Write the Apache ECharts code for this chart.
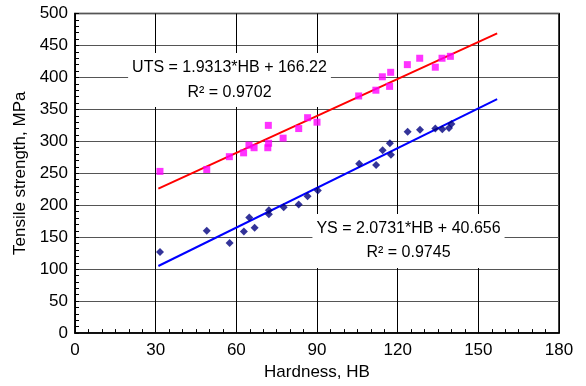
<!DOCTYPE html>
<html>
<head>
<meta charset="utf-8">
<script src="https://cdn.jsdelivr.net/npm/echarts@6/dist/echarts.min.js"></script>
<style>
  html, body { margin: 0; padding: 0; background: #fff; }
  #chart { width: 586px; height: 386px; }
</style>
</head>
<body>
<div id="chart"></div>
<script>
var utsHB  = [31.6, 49, 57.4, 62.7, 64.7, 66.6, 71.9, 71.7, 72.0, 77.4, 83.2, 86.5, 90.0, 105.5, 111.9, 114.3, 117.4, 117.0, 123.6, 128.2, 134.0, 136.5, 139.6];
var utsMPa = [253, 256, 276, 282, 294, 290, 325, 290, 297, 305, 320, 337, 330, 371, 380, 401, 408, 386, 420, 430, 416, 430, 433];
var ysHB   = [31.6, 49, 57.5, 62.8, 64.8, 66.8, 72.1, 72.1, 77.6, 83.2, 86.5, 90.3, 105.7, 112.0, 114.4, 117.1, 117.5, 123.7, 128.3, 134.0, 136.6, 139.1, 140.0];
var ysMPa  = [127, 160, 141, 159, 181, 165, 192, 186, 197, 201, 214, 223, 265, 263, 286, 297, 279, 315, 318, 320, 319, 321, 327];
// trend line ends
var fitHB  = [31, 157];
var utsFit = [226, 469];
var ysFit  = [105, 366];

var utsText = 'UTS = 1.9313*HB + 166.22\nR² = 0.9702';
var ysText  = 'YS = 2.0731*HB + 40.656\nR² = 0.9745';

function pairs(xs, ys) {
  var out = [];
  for (var i = 0; i < xs.length; i++) out.push([xs[i], ys[i]]);
  return out;
}

var chart = echarts.init(document.getElementById('chart'));
var font = 'Liberation Sans, Arial, sans-serif';

var option = {
  animation: false,
  grid: {
    left: 75, right: 27, top: 13.5, bottom: 51,
    show: true, borderColor: '#000', borderWidth: 1.5
  },
  xAxis: {
    type: 'value', min: 0, max: 180, interval: 30,
    name: 'Hardness, HB', nameLocation: 'middle', nameGap: 30,
    nameTextStyle: { color: '#000', fontSize: 17, fontFamily: font },
    axisLine: { lineStyle: { color: '#000', width: 1.5 } },
    axisTick: { show: true, inside: true, length: 4, lineStyle: { color: '#000' } },
    minorTick: { show: true, splitNumber: 6, length: 4, lineStyle: { color: '#000' } },
    axisLabel: { color: '#000', fontSize: 17, fontFamily: font, margin: 9 },
    splitLine: { show: true, lineStyle: { color: '#000', width: 1 } }
  },
  yAxis: {
    type: 'value', min: 0, max: 500, interval: 50,
    name: 'Tensile strength, MPa', nameLocation: 'middle', nameGap: 46,
    nameTextStyle: { color: '#000', fontSize: 17, fontFamily: font },
    axisLine: { lineStyle: { color: '#000', width: 1.5 } },
    axisTick: { show: true, inside: true, length: 4, lineStyle: { color: '#000' } },
    minorTick: { show: true, splitNumber: 5, length: 4, lineStyle: { color: '#000' } },
    axisLabel: { color: '#000', fontSize: 17, fontFamily: font, margin: 7 },
    splitLine: { show: true, lineStyle: { color: '#555', width: 1.2 } }
  },
  series: [
    {
      type: 'line', data: pairs(fitHB, utsFit), showSymbol: false, z: 3,
      lineStyle: { color: '#ff0000', width: 2 }
    },
    {
      type: 'line', data: pairs(fitHB, ysFit), showSymbol: false, z: 3,
      lineStyle: { color: '#0000ff', width: 2 }
    },
    {
      type: 'scatter', data: pairs(utsHB, utsMPa), symbol: 'rect', symbolSize: 7, z: 4,
      itemStyle: { color: '#ff00ff' }
    },
    {
      type: 'scatter', data: pairs(ysHB, ysMPa), symbol: 'diamond', symbolSize: 8, z: 4,
      itemStyle: { color: '#000080' }
    }
  ],
  graphic: [
    {
      type: 'text', x: 229.5, y: 80, z: 10,
      style: {
        text: utsText, align: 'center', verticalAlign: 'middle',
        font: '16px ' + font, lineHeight: 25, fill: '#000',
        backgroundColor: '#fff', padding: [2, 4]
      }
    },
    {
      type: 'text', x: 408.5, y: 241, z: 10,
      style: {
        text: ysText, align: 'center', verticalAlign: 'middle',
        font: '16px ' + font, lineHeight: 24, fill: '#000',
        backgroundColor: '#fff', padding: [3, 4]
      }
    }
  ]
};
chart.setOption(option);
</script>
</body>
</html>
